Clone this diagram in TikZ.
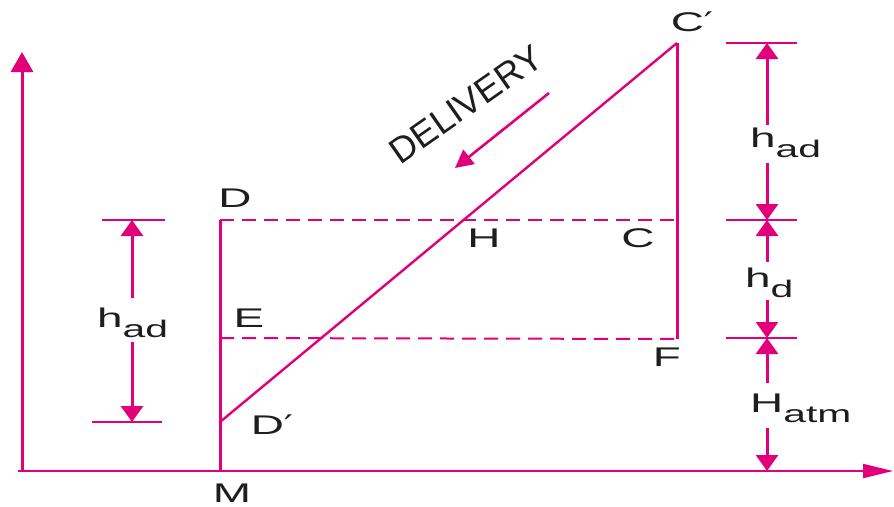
\documentclass[tikz,border=0pt]{standalone}
\usepackage{fontspec}
\setmainfont{Liberation Sans}
\newfontfamily\lblfont[FakeStretch=1.7]{Liberation Sans}
\newfontfamily\primefont[FakeStretch=1.5]{DejaVu Sans}
\usetikzlibrary{arrows.meta}
\definecolor{mag}{RGB}{226,0,122}
\definecolor{ink}{RGB}{30,30,30}
\newcommand{\sbs}[2]{#1\raisebox{-10pt}{\fontsize{24}{24}\selectfont #2}}
\newcommand{\prm}{{\primefont ′}}
\tikzset{
  vln/.style={draw=mag,line width=3pt},
  sln/.style={draw=mag,line width=2.4pt},
  dsh/.style={draw=mag,line width=2pt,dash pattern=on 14pt off 8pt},
  tick/.style={draw=mag,line width=2pt},
  dim/.style={draw=mag,line width=3pt,-{Triangle[length=16pt,width=22pt]}},
  vaxis/.style={draw=mag,line width=3pt,-{Triangle[length=20pt,width=22pt]}},
  haxis/.style={draw=mag,line width=2pt,-{Triangle[length=30pt,width=14pt]}},
  lbl/.style={text=ink,font=\lblfont\fontsize{27}{27}\selectfont,inner sep=0pt}
}
\begin{document}
\begin{tikzpicture}[x=1pt,y=-1pt]
\useasboundingbox (0,0) rectangle (894,506);
% axes
\coordinate (O) at (22,472);
\coordinate (Ytop) at (22,52);
\coordinate (Xl) at (18,471);
\coordinate (Xr) at (893,471);
\draw[vaxis] (O) -- (Ytop);
\draw[haxis] (Xl) -- (Xr);
% main points
\coordinate (Mp) at (220,471);
\coordinate (Dp) at (220,220);
\coordinate (Ep) at (220,338);
\coordinate (Dpr) at (220,422);
\coordinate (Cp) at (677,220);
\coordinate (Fp) at (677,339);
\coordinate (Cpr) at (677,43);
\draw[vln] (Mp) -- (Dp);
\draw[vln] (Fp) -- (Cpr);
\draw[dsh] (Dp) -- (Cp);
\draw[dsh] (Ep) -- (Fp);
\draw[sln] (Dpr) -- (Cpr);
% labels
\node[lbl] (lD) at (235,198) {D};
\node[lbl] (lE) at (249,318) {E};
\node[lbl] (lDpr) at (272,425) {D\prm};
\node[lbl] (lM) at (232,493) {M};
\node[lbl] (lH) at (484,238) {H};
\node[lbl] (lC) at (638,238) {C};
\node[lbl] (lF) at (667,357) {F};
\node[lbl] (lCpr) at (692,22) {C\prm};
% delivery
\node[text=ink,inner sep=0pt,rotate=35,font=\fontsize{36}{36}\selectfont] (del) at (466,104) {DELIVERY};
\coordinate (a1) at (549,93);
\coordinate (a2) at (455,168);
\draw[draw=mag,line width=2.6pt,-{Triangle[length=18pt,width=18pt]}] (a1) -- (a2);
% right dimensions
\coordinate (r1a) at (726,43); \coordinate (r1b) at (797,43);
\coordinate (r2a) at (726,220); \coordinate (r2b) at (797,220);
\coordinate (r3a) at (726,338); \coordinate (r3b) at (797,338);
\draw[tick] (r1a) -- (r1b);
\draw[tick] (r2a) -- (r2b);
\draw[tick] (r3a) -- (r3b);
\coordinate (t1) at (767,43);
\coordinate (t2) at (767,220);
\coordinate (t3) at (767,338);
\coordinate (t4) at (767,471);
\node[lbl,anchor=base west] (had1) at (750,147) {\sbs{h}{ad}};
\node[lbl,anchor=base west] (hd) at (745,287) {\sbs{h}{d}};
\node[lbl,anchor=base west] (hatm) at (750,412) {\sbs{H}{atm}};
\coordinate (g1) at (767,125); \coordinate (g2) at (767,163);
\coordinate (g3) at (767,262); \coordinate (g4) at (767,300);
\coordinate (g5) at (767,383); \coordinate (g6) at (767,428);
\draw[dim] (g1) -- (t1);
\draw[dim] (g2) -- (t2);
\draw[dim] (g3) -- (t2);
\draw[dim] (g4) -- (t3);
\draw[dim] (g5) -- (t3);
\draw[dim] (g6) -- (t4);
% left dimension
\coordinate (l1a) at (102,220); \coordinate (l1b) at (165,220);
\coordinate (l2a) at (92,422); \coordinate (l2b) at (162,422);
\draw[tick] (l1a) -- (l1b);
\draw[tick] (l2a) -- (l2b);
\coordinate (u1) at (132,220);
\coordinate (u2) at (132,422);
\coordinate (k1) at (132,298); \coordinate (k2) at (132,342);
\node[lbl,anchor=base west] (had2) at (97,327) {\sbs{h}{ad}};
\draw[dim] (k1) -- (u1);
\draw[dim] (k2) -- (u2);
\end{tikzpicture}
\end{document}
